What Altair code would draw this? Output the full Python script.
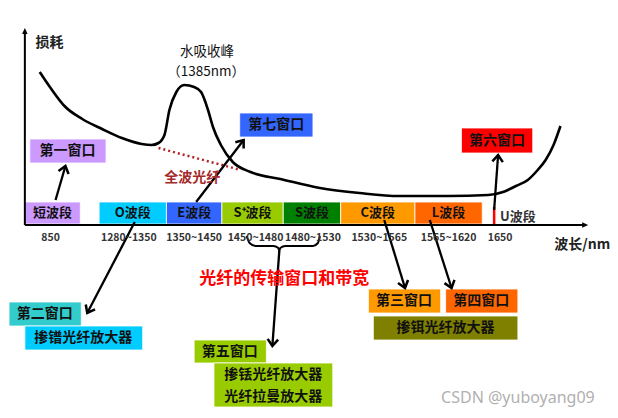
import math
import altair as alt
import pandas as pd

FONT = "Noto Sans CJK SC"

# ---- loss curve (schematic, position units) ----
curve_x = [37, 48, 62, 80, 100, 120, 140, 150, 157, 163, 168, 175, 183, 193, 200, 207, 212, 220, 232, 250, 280, 320, 360, 400, 450, 490, 505, 518, 530, 540, 548, 556, 563]
curve_y = [72, 88, 106, 119, 129, 138, 144, 145, 143, 135, 110, 92, 85, 87, 92, 110, 127, 145, 162, 172, 179, 188, 193, 196, 196, 195, 192, 186, 180, 170, 160, 145, 126]

# all-wave fibre dotted line
allwave_x = [157, 240]
allwave_y = [148, 170]

# ---- bands along the axis ----
band_labels = ["短波段", "O波段", "E波段", "S⁺波段", "S波段", "C波段", "L波段"]
band_x1 = [22, 97, 165, 221, 283, 341, 416]
band_x2 = [78, 165, 221, 283, 341, 416, 484]
band_colors = ["#cc99ff", "#00ccff", "#3366ff", "#99cc00", "#008000", "#ff9900", "#ff6600"]
band_top, band_bottom = 202, 224

tick_labels = ["850", "1280~1350", "1350~1450", "1450~1480", "1480~1530", "1530~1565", "1565~1620", "1650"]
tick_x = [48, 127, 193, 255, 313, 380, 450, 502]

# ---- window / amplifier boxes ----
box_labels = ["第一窗口", "第七窗口", "第六窗口", "第二窗口", "掺镨光纤放大器", "第五窗口", "", "第三窗口", "第四窗口", "掺铒光纤放大器"]
box_x1 = [27, 239, 463, 6, 22, 193, 213, 369, 447, 374]
box_x2 = [104, 313, 535, 79, 141, 266, 333, 442, 520, 520]
box_y1 = [139, 113, 128, 302, 326, 340, 363, 289, 289, 316]
box_y2 = [163, 137, 153, 326, 350, 363, 407, 313, 313, 340]
box_colors = ["#cc99ff", "#3366ff", "#ff0000", "#33cccc", "#00ccff", "#99cc00", "#99cc00", "#ff9900", "#ff6600", "#808000"]
box_text_x = [65, 276, 499, 42, 81, 229, 273, 405, 483, 447]
box_text_y = [151, 125, 141, 314, 338, 352, 385, 301, 301, 328]

amp_lines = ["掺铥光纤放大器", "光纤拉曼放大器"]
amp_lines_x = [273, 273]
amp_lines_y = [375, 397]

# ---- arrows (start -> tip) ----
arrow_x1 = [53, 195, 496, 133, 279, 385, 431]
arrow_y1 = [200, 202, 210, 222, 251, 220, 220]
arrow_x2 = [63, 243, 500, 85, 272, 406, 453]
arrow_y2 = [166, 140, 155, 313, 346, 288, 288]

# brace under S+/S bands
brace_x = [246, 249, 255, 273, 278, 279, 280, 285, 313, 318, 320]
brace_y = [236, 243, 246, 246, 248, 251, 248, 246, 246, 243, 236]

xs = alt.Scale(domain=[8, 610], nice=False, zero=False)
ys = alt.Scale(domain=[8, 410], nice=False, zero=False, reverse=True)


def X(f="x"):
    return alt.X(f"{f}:Q", scale=xs, axis=None)


def Y(f="y"):
    return alt.Y(f"{f}:Q", scale=ys, axis=None)


layers = []

# boxes
bands = pd.DataFrame({"x1": band_x1, "x2": band_x2, "y1": [band_top] * len(band_x1),
                      "y2": [band_bottom] * len(band_x1), "c": band_colors, "t": band_labels,
                      "xm": [(a + b) / 2 for a, b in zip(band_x1, band_x2)]})
boxes = pd.DataFrame({"x1": box_x1, "x2": box_x2, "y1": box_y1, "y2": box_y2, "c": box_colors,
                      "t": box_labels, "tx": box_text_x, "ty": box_text_y})
for df in (bands, boxes):
    layers.append(alt.Chart(df).mark_rect(stroke="white", strokeWidth=0.8).encode(
        x=X("x1"), x2="x2", y=Y("y1"), y2="y2", color=alt.Color("c:N", scale=None)))

# U band red mark
layers.append(alt.Chart(pd.DataFrame({"x": [496], "y": [207], "y2": [224]})).mark_rule(
    color="#ff0000", strokeWidth=2.5).encode(x=X(), y=Y(), y2="y2"))

# axes
layers.append(alt.Chart(pd.DataFrame({"x": [22, 22], "y": [225, 225], "x2": [22, 586], "y2": [31, 225]})).mark_rule(
    color="black", strokeWidth=2).encode(x=X(), y=Y(), x2="x2", y2="y2"))
layers.append(alt.Chart(pd.DataFrame({"x": [22, 591], "y": [28, 225], "a": [0, 90]})).mark_point(
    shape="M0,0 L-1,2.2 L1,2.2 Z", filled=True, opacity=1, color="black", size=30).encode(
    x=X(), y=Y(), angle=alt.Angle("a:Q", scale=None)))

# curve
layers.append(alt.Chart(pd.DataFrame({"x": curve_x, "y": curve_y, "i": range(len(curve_x))})).mark_line(
    interpolate="monotone", color="black", strokeWidth=2.6).encode(x=X(), y=Y(), order="i:Q"))

# all-wave dotted line
layers.append(alt.Chart(pd.DataFrame({"x": allwave_x, "y": allwave_y})).mark_line(
    color="#b22222", strokeWidth=2.5, strokeDash=[2, 3]).encode(x=X(), y=Y()))

# brace
layers.append(alt.Chart(pd.DataFrame({"x": brace_x, "y": brace_y, "i": range(len(brace_x))})).mark_line(
    color="black", strokeWidth=2, interpolate="monotone").encode(x=X(), y=Y(), order="i:Q"))

# arrows
ang = []
for a, b, c, d in zip(arrow_x1, arrow_y1, arrow_x2, arrow_y2):
    ang.append((math.degrees(math.atan2(c - a, -(d - b))) + 360) % 360)
arr = pd.DataFrame({"x": arrow_x1, "y": arrow_y1, "x2": arrow_x2, "y2": arrow_y2, "a": ang})
layers.append(alt.Chart(arr).mark_rule(color="black", strokeWidth=2.3).encode(
    x=X(), y=Y(), x2="x2", y2="y2"))
layers.append(alt.Chart(arr).mark_point(
    shape="M-1,1.3 L0,0 L1,1.3", filled=False, opacity=1, color="black", strokeWidth=2.5, size=110).encode(
    x=X("x2"), y=Y("y2"), angle=alt.Angle("a:Q", scale=None)))

# texts
def text_layer(xv, yv, tv, size, color, weight="bold", font=FONT):
    df = pd.DataFrame({"x": xv, "y": yv, "t": tv})
    return alt.Chart(df).mark_text(font=font, fontSize=size, color=color, fontWeight=weight,
                                   baseline="middle", align="center").encode(x=X(), y=Y(), text="t:N")

layers.append(text_layer(bands["xm"].tolist(), [213] * len(bands), band_labels, 13, "#111"))
layers.append(text_layer([520], [217], ["U波段"], 13, "#333"))
layers.append(text_layer(tick_x, [238] * len(tick_x), tick_labels, 10.5, "#333"))
layers.append(text_layer([b for b, t in zip(box_text_x, box_labels) if t],
                         [b for b, t in zip(box_text_y, box_labels) if t],
                         [t for t in box_labels if t], 14, "#111"))
layers.append(text_layer(amp_lines_x, amp_lines_y, amp_lines, 14, "#111"))
layers.append(text_layer([47], [43], ["损耗"], 14, "#222"))
layers.append(text_layer([206, 205], [52, 72], ["水吸收峰", "（1385nm）"], 13.5, "#111", weight="normal"))
layers.append(text_layer([191], [178], ["全波光纤"], 14, "#a52a2a"))
layers.append(text_layer([585], [245], ["波长/nm"], 14, "#222"))
layers.append(text_layer([284], [279], ["光纤的传输窗口和带宽"], 17, "#ff0000"))
layers.append(text_layer([520], [398], ["CSDN @yuboyang09"], 16, "#b0b0b0", weight="normal", font="Noto Sans"))

chart = alt.layer(*layers).properties(
    width=602, height=402, padding=0, background="white",
    autosize=alt.AutoSizeParams(type="fit", contains="padding"),
).configure_view(strokeWidth=0)

chart.save("out.html", embed_options={"renderer": "svg", "actions": False})
